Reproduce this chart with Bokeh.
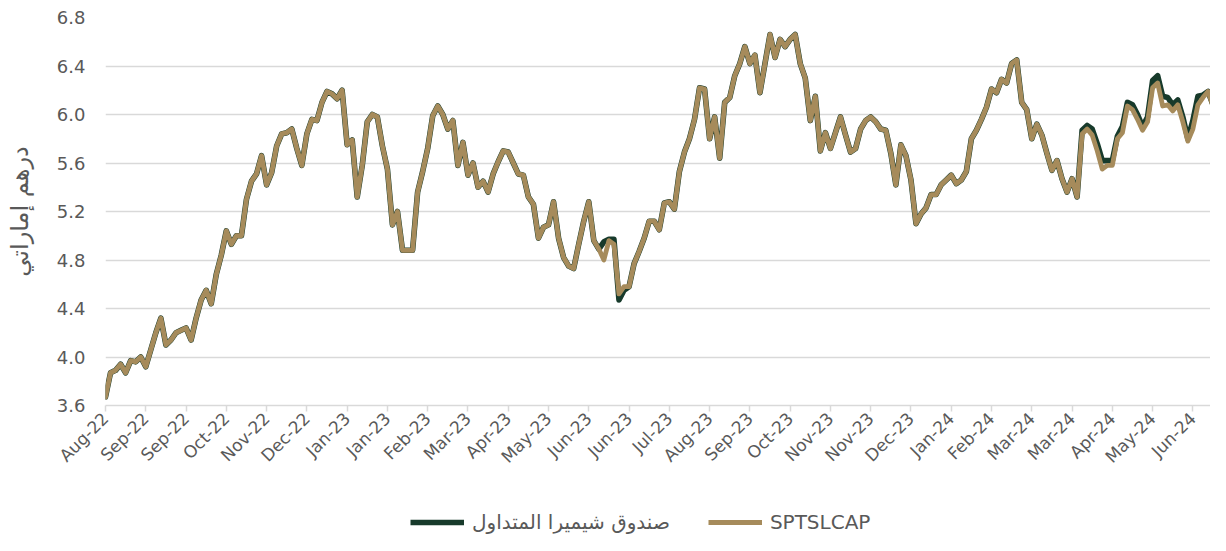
from bokeh.plotting import figure
from bokeh.layouts import column
from bokeh.models import Range1d, FixedTicker, NumeralTickFormatter, Legend, LegendItem
from bokeh.embed import file_html
from bokeh.resources import INLINE

# ---- data ----
tick_labels = ["Aug-22", "Sep-22", "Sep-22", "Oct-22", "Nov-22", "Dec-22", "Jan-23", "Jan-23",
               "Feb-23", "Mar-23", "Apr-23", "May-23", "Jun-23", "Jun-23", "Jul-23", "Aug-23",
               "Sep-23", "Oct-23", "Nov-23", "Nov-23", "Dec-23", "Jan-24", "Feb-24", "Mar-24",
               "Mar-24", "Apr-24", "May-24", "Jun-24"]

sptslcap = [
    3.67, 3.87, 3.89, 3.94, 3.87, 3.97, 3.96, 4.00, 3.92, 4.06,
    4.20, 4.32, 4.10, 4.14, 4.20, 4.22, 4.24, 4.14, 4.32, 4.47,
    4.55, 4.44, 4.68, 4.84, 5.04, 4.93, 5.00, 5.00, 5.30, 5.45,
    5.51, 5.66, 5.42, 5.52, 5.74, 5.84, 5.85, 5.88, 5.72, 5.58,
    5.84, 5.96, 5.95, 6.10, 6.19, 6.17, 6.13, 6.20, 5.75, 5.79,
    5.32, 5.58, 5.94, 6.00, 5.98, 5.74, 5.55, 5.09, 5.20, 4.88,
    4.88, 4.88, 5.36, 5.53, 5.72, 5.99, 6.07, 6.00, 5.88, 5.95,
    5.58, 5.77, 5.50, 5.60, 5.40, 5.45, 5.36, 5.51, 5.61, 5.70,
    5.69, 5.60, 5.51, 5.50, 5.32, 5.26, 4.98, 5.07, 5.09, 5.28,
    4.98, 4.82, 4.75, 4.73, 4.93, 5.12, 5.28, 4.96, 4.89, 4.80,
    4.96, 4.93, 4.52, 4.58, 4.58, 4.77, 4.87, 4.98, 5.12, 5.12,
    5.05, 5.27, 5.28, 5.22, 5.53, 5.69, 5.80, 5.96, 6.22, 6.21,
    5.80, 5.98, 5.64, 6.10, 6.14, 6.32, 6.42, 6.56, 6.42, 6.49,
    6.18, 6.42, 6.66, 6.47, 6.62, 6.56, 6.62, 6.66, 6.42, 6.30,
    5.95, 6.15, 5.70, 5.85, 5.72, 5.85, 5.98, 5.83, 5.69, 5.72,
    5.88, 5.95, 5.98, 5.94, 5.88, 5.87, 5.68, 5.42, 5.75, 5.66,
    5.46, 5.10, 5.18, 5.23, 5.34, 5.34, 5.42, 5.46, 5.50, 5.43,
    5.46, 5.53, 5.80, 5.87, 5.96, 6.06, 6.21, 6.18, 6.29, 6.26,
    6.42, 6.45, 6.10, 6.04, 5.80, 5.92, 5.83, 5.68, 5.54, 5.62,
    5.47, 5.36, 5.47, 5.32, 5.84, 5.88, 5.83, 5.70, 5.55, 5.58,
    5.58, 5.80, 5.85, 6.07, 6.04, 5.96, 5.87, 5.94, 6.22, 6.26,
    6.07, 6.08, 6.03, 6.08, 5.94, 5.78, 5.88, 6.08, 6.14, 6.19,
    6.07, 5.98,
]

chimera_etf = [
    3.67, 3.87, 3.89, 3.94, 3.87, 3.97, 3.96, 4.00, 3.92, 4.06,
    4.20, 4.32, 4.10, 4.14, 4.20, 4.22, 4.24, 4.14, 4.32, 4.47,
    4.55, 4.44, 4.68, 4.84, 5.04, 4.93, 5.00, 5.00, 5.30, 5.45,
    5.51, 5.66, 5.42, 5.52, 5.74, 5.84, 5.85, 5.88, 5.72, 5.58,
    5.84, 5.96, 5.95, 6.10, 6.19, 6.17, 6.13, 6.20, 5.75, 5.79,
    5.32, 5.58, 5.94, 6.00, 5.98, 5.74, 5.55, 5.09, 5.20, 4.88,
    4.88, 4.88, 5.36, 5.53, 5.72, 5.99, 6.07, 6.00, 5.88, 5.95,
    5.58, 5.77, 5.50, 5.60, 5.40, 5.45, 5.36, 5.51, 5.61, 5.70,
    5.69, 5.60, 5.51, 5.50, 5.32, 5.26, 4.98, 5.07, 5.09, 5.28,
    4.98, 4.82, 4.75, 4.73, 4.93, 5.12, 5.28, 4.96, 4.89, 4.95,
    4.97, 4.97, 4.47, 4.55, 4.58, 4.77, 4.87, 4.98, 5.12, 5.12,
    5.05, 5.27, 5.28, 5.22, 5.53, 5.69, 5.80, 5.96, 6.22, 6.21,
    5.80, 5.98, 5.64, 6.10, 6.14, 6.32, 6.42, 6.56, 6.42, 6.49,
    6.18, 6.42, 6.66, 6.47, 6.62, 6.56, 6.62, 6.66, 6.42, 6.30,
    5.95, 6.15, 5.70, 5.85, 5.72, 5.85, 5.98, 5.83, 5.69, 5.72,
    5.88, 5.95, 5.98, 5.94, 5.88, 5.87, 5.68, 5.42, 5.75, 5.66,
    5.46, 5.10, 5.18, 5.23, 5.34, 5.34, 5.42, 5.46, 5.50, 5.43,
    5.46, 5.53, 5.80, 5.87, 5.96, 6.06, 6.21, 6.18, 6.29, 6.26,
    6.42, 6.45, 6.10, 6.04, 5.80, 5.92, 5.83, 5.68, 5.54, 5.62,
    5.47, 5.36, 5.47, 5.32, 5.87, 5.91, 5.88, 5.76, 5.62, 5.62,
    5.62, 5.82, 5.90, 6.10, 6.08, 6.00, 5.90, 5.98, 6.28, 6.32,
    6.15, 6.14, 6.08, 6.12, 5.98, 5.80, 5.95, 6.15, 6.16, 6.19,
    6.08, 5.98,
]

series_names = ["صندوق شيميرا المتداول", "SPTSLCAP"]
y_title = "درهم إماراتي"

day_index = list(range(len(sptslcap)))
points_per_tick = 8
tick_positions = [k * points_per_tick for k in range(len(tick_labels))]

GREEN = "#173A2B"
TAN = "#A68B5B"
GRID = "#D9D9D9"
TXT = "#595959"
FONT = "DejaVu Sans"
GREEN_W, TAN_W = 5.6, 4.8

p = figure(width=1210, height=483, output_backend="svg", toolbar_location=None,
           x_range=Range1d(0, 219.5), y_range=Range1d(3.6, 6.8),
           min_border_left=105, min_border_right=0, min_border_top=17, min_border_bottom=78)
p.outline_line_color = None
p.background_fill_color = "white"
p.border_fill_color = "white"

p.line(day_index, chimera_etf, line_color=GREEN, line_width=GREEN_W,
       line_join="round", line_cap="round")
p.line(day_index, sptslcap, line_color=TAN, line_width=TAN_W,
       line_join="round", line_cap="round")

# x axis
xa = p.xaxis[0]
xa.ticker = FixedTicker(ticks=tick_positions)
xa.major_label_overrides = {pos: lab for pos, lab in zip(tick_positions, tick_labels)}
xa.major_label_orientation = 0.785398
xa.axis_line_color = GRID
xa.axis_line_width = 1.5
xa.major_tick_line_color = GRID
xa.major_tick_line_width = 1.5
xa.major_tick_out = 6
xa.major_tick_in = 0
xa.minor_tick_line_color = None
xa.major_label_text_font = FONT
xa.major_label_text_font_size = "17px"
xa.major_label_text_color = TXT
xa.major_label_standoff = 4

# y axis
ya = p.yaxis[0]
ya.ticker = FixedTicker(ticks=[3.6, 4.0, 4.4, 4.8, 5.2, 5.6, 6.0, 6.4, 6.8])
ya.formatter = NumeralTickFormatter(format="0.0")
ya.axis_line_color = None
ya.major_tick_line_color = None
ya.minor_tick_line_color = None
ya.major_tick_out = 0
ya.major_label_text_font = FONT
ya.major_label_text_font_size = "18px"
ya.major_label_text_color = TXT
ya.major_label_standoff = 20
ya.axis_label = y_title
ya.axis_label_text_font = FONT
ya.axis_label_text_font_size = "24px"
ya.axis_label_text_font_style = "normal"
ya.axis_label_text_color = TXT
ya.axis_label_standoff = 20

p.xgrid.grid_line_color = None
p.ygrid.grid_line_color = GRID
p.ygrid.grid_line_width = 1.5
p.ygrid.ticker = ya.ticker

# legend strip underneath the chart (legend glyphs come from hidden copies of the series)
leg = figure(width=1210, height=52, output_backend="svg", toolbar_location=None,
             x_range=Range1d(0, 1), y_range=Range1d(0, 1),
             x_axis_location=None, y_axis_location=None,
             min_border_left=0, min_border_right=0, min_border_top=0, min_border_bottom=0)
leg.outline_line_color = None
leg.grid.visible = False
lg_green = leg.line(day_index, chimera_etf, line_color=GREEN, line_width=GREEN_W, visible=False)
lg_tan = leg.line(day_index, sptslcap, line_color=TAN, line_width=TAN_W, visible=False)

legend = Legend(items=[LegendItem(label=series_names[0], renderers=[lg_green]),
                       LegendItem(label=series_names[1], renderers=[lg_tan])],
                orientation="horizontal", location=(305, 1),
                glyph_width=54, glyph_height=20, label_standoff=8, spacing=38,
                padding=0, margin=0,
                label_text_font=FONT, label_text_font_size="20px", label_text_color=TXT,
                background_fill_alpha=0, border_line_alpha=0)
leg.add_layout(legend, "center")

layout = column(p, leg, spacing=0)
open("out.html", "w").write(file_html(layout, INLINE))
